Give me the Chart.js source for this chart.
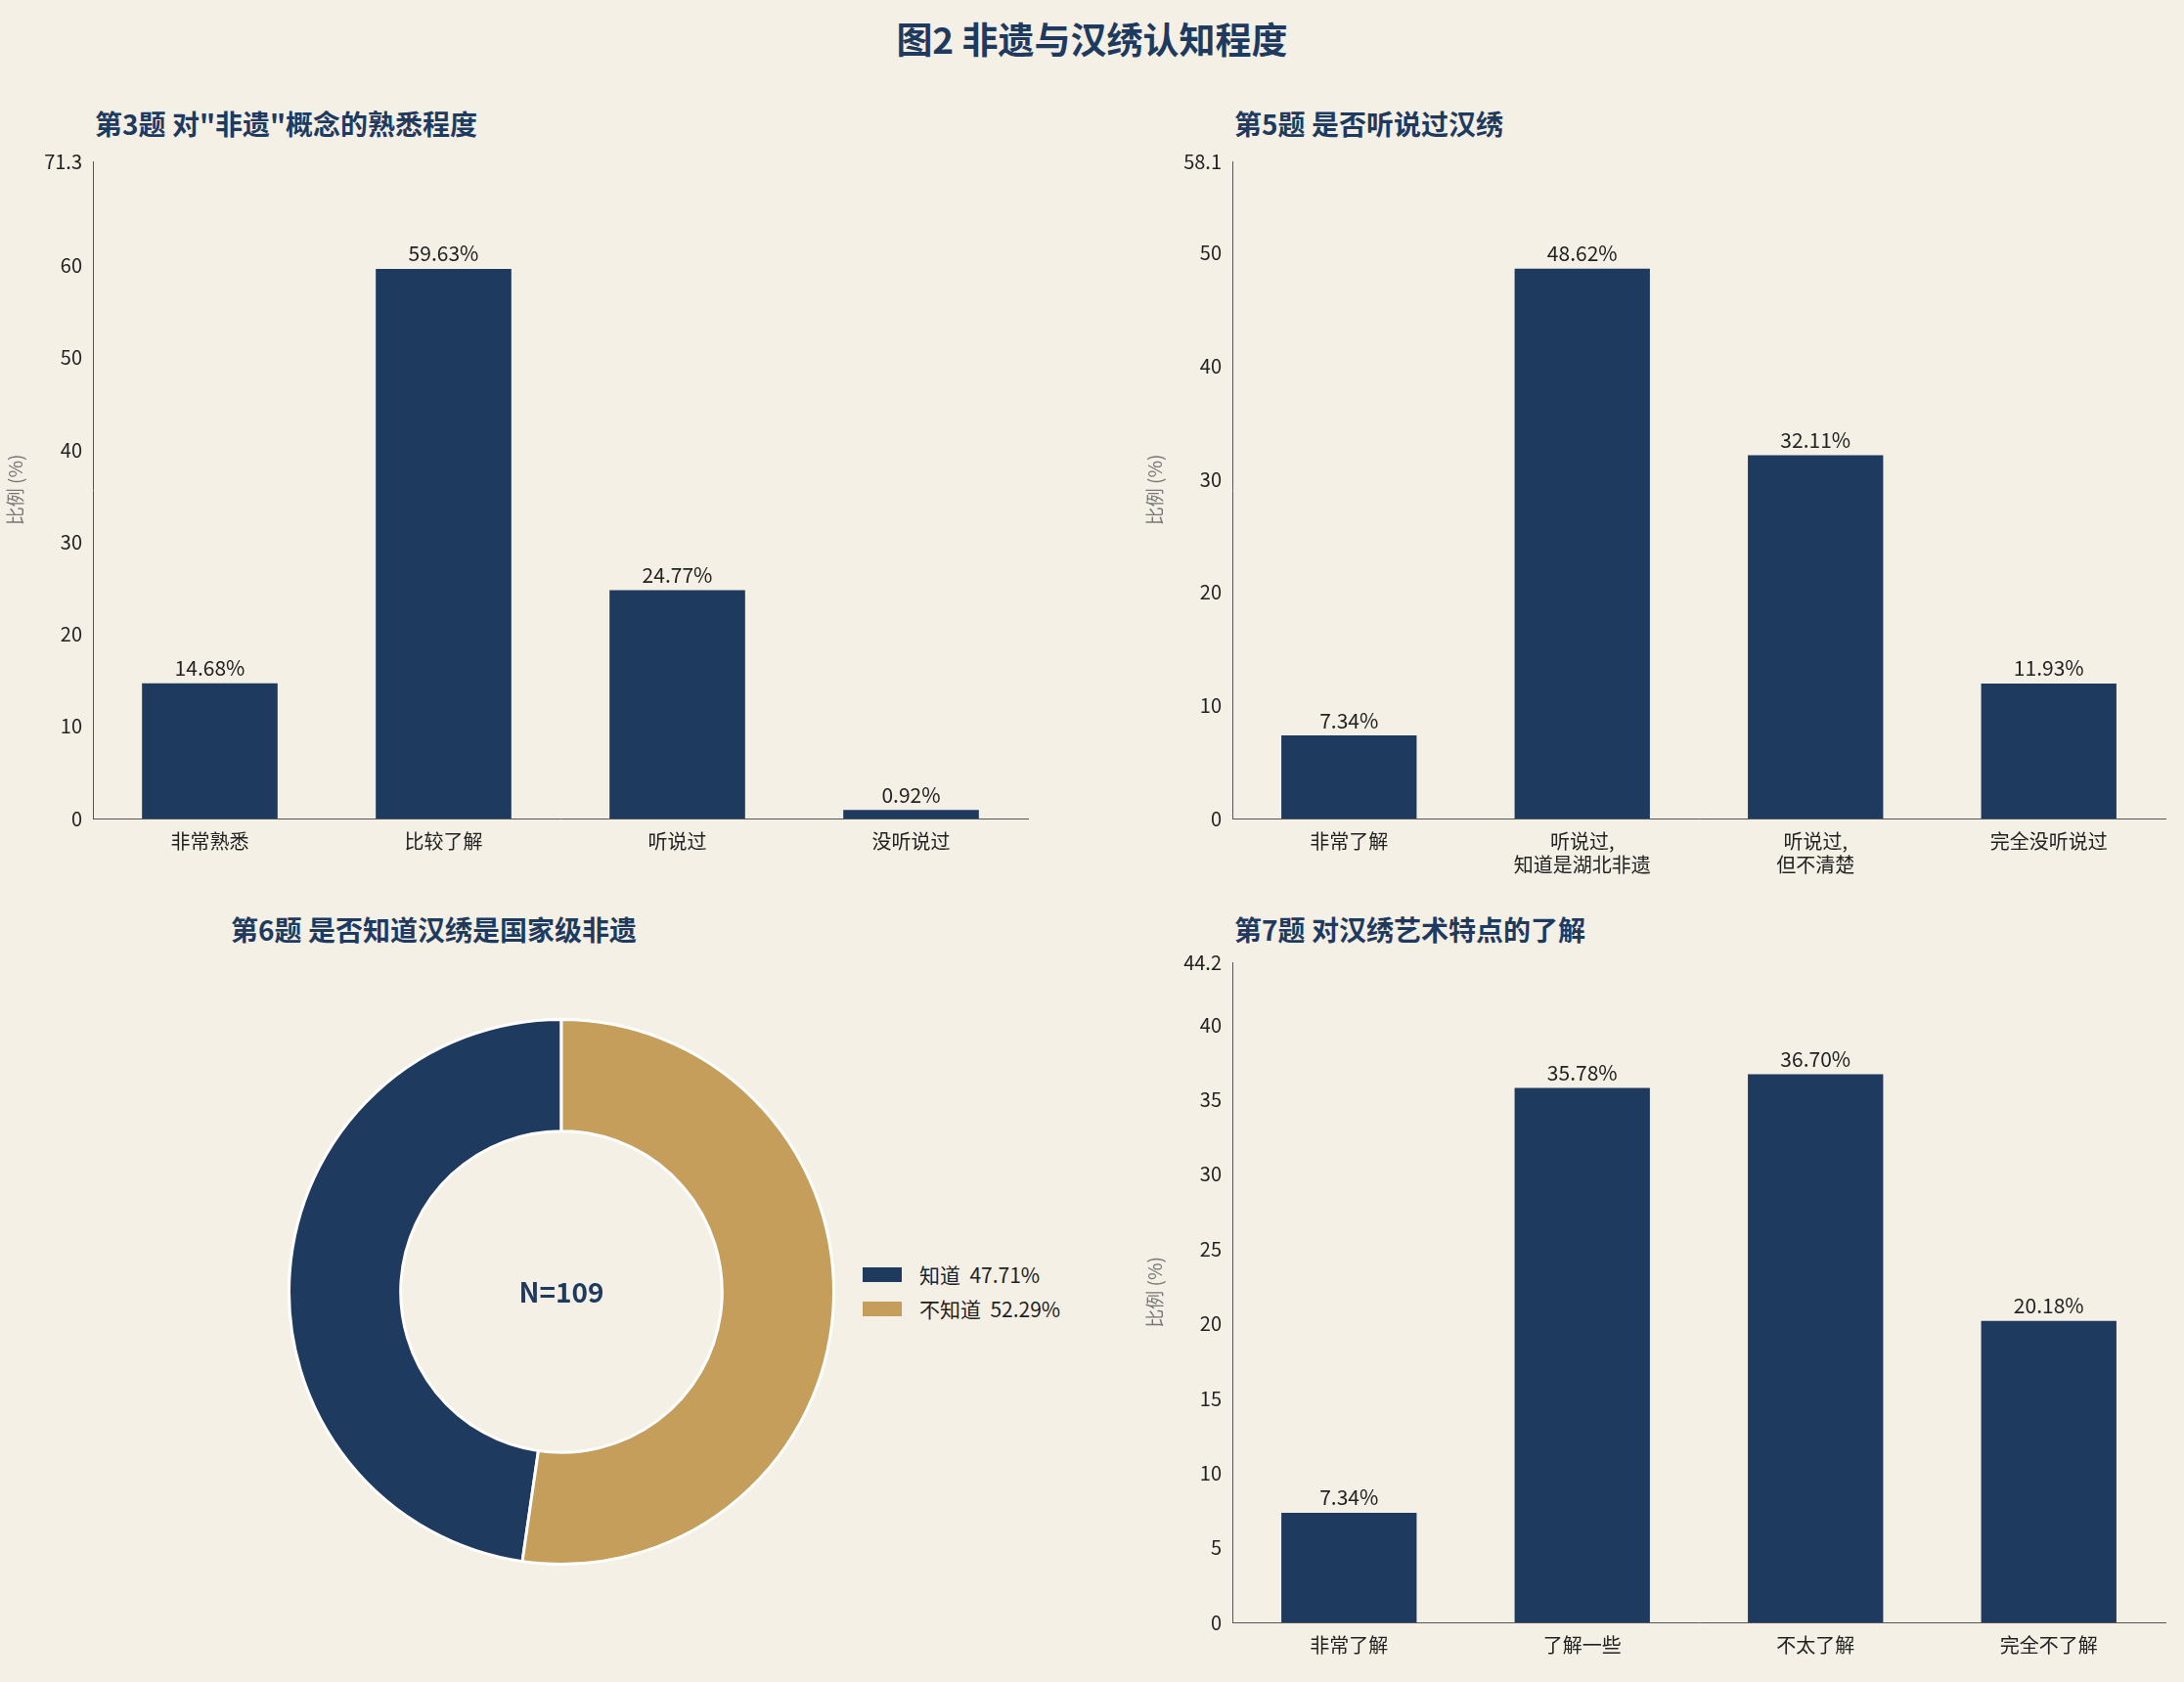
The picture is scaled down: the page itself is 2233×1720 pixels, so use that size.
<!DOCTYPE html>
<html><head><meta charset="utf-8">
<script src="https://cdn.jsdelivr.net/npm/chart.js@4/dist/chart.umd.min.js"></script>
<style>
body{margin:0;width:2233px;height:1720px;background:#f5f0e6;position:relative;overflow:hidden;font-family:"Noto Sans CJK SC","Noto Sans",sans-serif}
.t{position:absolute;color:#1f3a5f;font-weight:bold;font-size:28px;white-space:nowrap}
canvas{position:absolute}
.lg{position:absolute;font-size:21px;color:#222;display:flex;align-items:center}
.lg i{display:inline-block;width:40px;height:15px;margin-right:18px}
</style></head><body>
<div class="t" style="left:0;width:2233px;text-align:center;top:12px;font-size:37px">图2 非遗与汉绣认知程度</div>
<div class="t" style="left:97px;top:106px">第3题 对"非遗"概念的熟悉程度</div>
<div class="t" style="left:1262px;top:106px">第5题 是否听说过汉绣</div>
<div class="t" style="left:236px;top:930px">第6题 是否知道汉绣是国家级非遗</div>
<div class="t" style="left:1262px;top:930px">第7题 对汉绣艺术特点的了解</div>
<div style="position:absolute;left:294px;top:1041px;width:560px;height:560px"><canvas id="c3"></canvas></div>
<div class="lg" style="left:882px;top:1288px"><i style="background:#1f3a5f"></i>知道&nbsp; 47.71%</div>
<div class="lg" style="left:882px;top:1323px"><i style="background:#c49e5a"></i>不知道&nbsp; 52.29%</div>
<div style="position:absolute;left:0;top:150px;width:1060px;height:767px"><canvas id="c1"></canvas></div>
<div style="position:absolute;left:1165px;top:150px;width:1058px;height:767px"><canvas id="c2"></canvas></div>
<div style="position:absolute;left:1165px;top:969px;width:1058px;height:745px"><canvas id="c4"></canvas></div>
<script>
const q3Labels = ['非常熟悉', '比较了解', '听说过', '没听说过'];
const q3Values = [14.68, 59.63, 24.77, 0.92];
const q5Labels = ['非常了解', ['听说过,', '知道是湖北非遗'], ['听说过,', '但不清楚'], '完全没听说过'];
const q5Values = [7.34, 48.62, 32.11, 11.93];
const q6Labels = ['知道', '不知道'];
const q6Values = [47.71, 52.29];
const q7Labels = ['非常了解', '了解一些', '不太了解', '完全不了解'];
const q7Values = [7.34, 35.78, 36.70, 20.18];

const FONT = '"Noto Sans CJK SC","Noto Sans",sans-serif';
const NAVY = '#1f3a5f', GOLD = '#c49e5a';

const valueLabels = {
  id: 'valueLabels',
  afterDatasetsDraw(chart) {
    const ctx = chart.ctx;
    const meta = chart.getDatasetMeta(0);
    ctx.save();
    ctx.font = '21px ' + FONT;
    ctx.fillStyle = '#222';
    ctx.textAlign = 'center';
    ctx.textBaseline = 'bottom';
    meta.data.forEach((bar, i) => {
      ctx.fillText(chart.data.datasets[0].data[i].toFixed(2) + '%', bar.x, bar.y - 5);
    });
    ctx.restore();
  }
};

function barChart(id, labels, values, max, step, xh) {
  new Chart(document.getElementById(id), {
    type: 'bar',
    data: { labels, datasets: [{ data: values, backgroundColor: NAVY, barPercentage: 0.58, categoryPercentage: 1 }] },
    options: {
      responsive: true, maintainAspectRatio: false, animation: false,
      layout: { padding: { top: 14, right: 9 } },
      plugins: { legend: { display: false }, tooltip: { enabled: false } },
      scales: {
        x: {
          grid: { display: false, drawTicks: true }, border: { color: '#555' },
          ticks: { color: '#222', font: { family: FONT, size: 20 } },
          afterFit(s) { s.height = xh; }
        },
        y: {
          min: 0, max, grid: { display: false }, border: { color: '#555' },
          ticks: { stepSize: step, color: '#222', font: { family: FONT, size: 20 } },
          title: { display: true, text: '比例 (%)', color: '#777', font: { family: FONT, size: 19 } },
          afterFit(s) { s.width = 95; }
        }
      }
    },
    plugins: [valueLabels]
  });
}
barChart('c1', q3Labels, q3Values, 71.3, 10, 80);
barChart('c2', q5Labels, q5Values, 58.1, 10, 80);
barChart('c4', q7Labels, q7Values, 44.2, 5, 55);

const centerText = {
  id: 'centerText',
  afterDraw(chart) {
    const ctx = chart.ctx, a = chart.chartArea;
    ctx.save();
    ctx.font = 'bold 28px ' + FONT;
    ctx.fillStyle = NAVY;
    ctx.textAlign = 'center';
    ctx.textBaseline = 'middle';
    ctx.fillText('N=109', (a.left + a.right) / 2, (a.top + a.bottom) / 2);
    ctx.restore();
  }
};
new Chart(document.getElementById('c3'), {
  type: 'doughnut',
  data: { labels: q6Labels, datasets: [{ data: q6Values, backgroundColor: [NAVY, GOLD], borderColor: '#ffffff', borderWidth: 3 }] },
  options: {
    responsive: true, maintainAspectRatio: false, animation: false,
    cutout: '59%', rotation: -q6Values[0] / 100 * 360,
    plugins: { legend: { display: false }, tooltip: { enabled: false } }
  },
  plugins: [centerText]
});
</script>
</body></html>
